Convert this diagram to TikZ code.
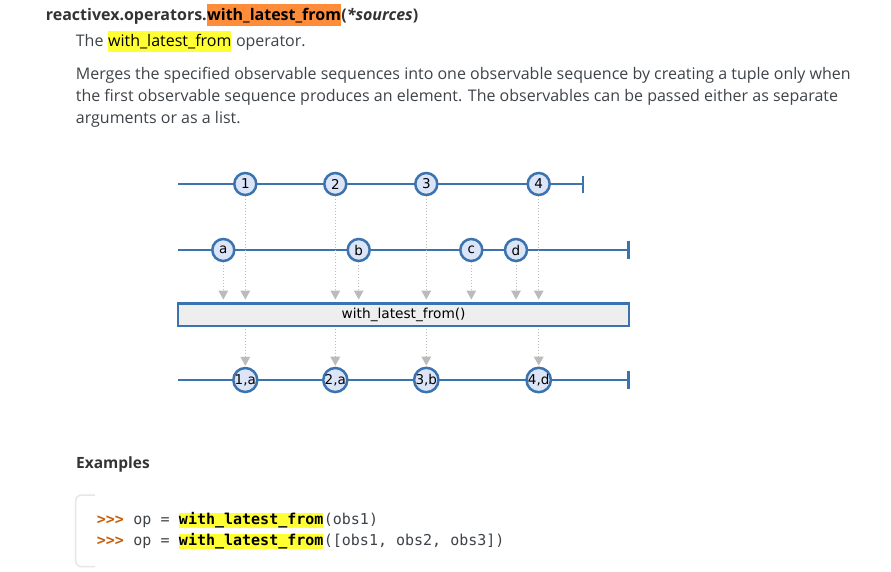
\documentclass[tikz,border=0pt]{standalone}
\usepackage{fontspec}
\setmainfont{Open Sans}
\newfontfamily\dejavu{DejaVu Sans}
\setmonofont{DejaVu Sans Mono}
\usetikzlibrary{arrows.meta}
\definecolor{txt}{HTML}{3E4349}
\definecolor{hdr}{HTML}{333333}
\definecolor{hlorange}{HTML}{FF8C38}
\definecolor{hlyellow}{HTML}{FFFF33}
\definecolor{axisblue}{HTML}{3A73AE}
\definecolor{marblefill}{HTML}{DCE5F8}
\definecolor{boxfill}{HTML}{EEEEEE}
\definecolor{conngray}{HTML}{BBBBBB}
\definecolor{prompt}{HTML}{C65D09}
\definecolor{codeborder}{HTML}{E6E6E6}
\begin{document}
\begin{tikzpicture}[x=1pt,y=-1pt,
  plain/.style={anchor=base west,inner sep=0pt,text=txt},
  hlo/.style={anchor=base west,inner xsep=0pt,inner ysep=0pt,fill=hlorange,text height=16.7pt,text depth=5.3pt,text=black},
  hly/.style={anchor=base west,inner xsep=0pt,inner ysep=0pt,fill=hlyellow,text height=16pt,text depth=5pt,text=black},
  hlc/.style={anchor=base west,inner xsep=0pt,inner ysep=0pt,fill=hlyellow,text height=11pt,text depth=3.7pt,text=black},
  axis/.style={draw=axisblue,line width=2.5pt},
  marble/.style={circle,draw=axisblue,line width=2.5pt,fill=marblefill,minimum size=22pt,inner sep=0pt,font=\dejavu\fontsize{13.5pt}{14pt}\selectfont,text=black},
  conn/.style={draw=conngray,line width=1pt,dash pattern=on 1pt off 2pt,-{Triangle[length=9pt,width=10pt,fill=conngray,color=conngray,line width=0pt]}},
  opbox/.style={draw=axisblue,line width=2.5pt,fill=boxfill,minimum width=451pt,minimum height=22.5pt,inner sep=0pt,font=\dejavu\fontsize{13.7pt}{14pt}\selectfont,text=black},
  codefont/.style={font=\ttfamily\fontsize{15pt}{18pt}\selectfont},
  codebold/.style={font=\ttfamily\bfseries\fontsize{15pt}{18pt}\selectfont}
]
\useasboundingbox (0,0) rectangle (891,571);
% ---------- header ----------
\begin{scope}[font=\bfseries\fontsize{16pt}{20pt}\selectfont]
\node[plain,text=hdr] (h1) at (45.7,20.7) {reactivex.operators.};
\node[hlo] (h2) at (h1.base east) {with\_latest\_from};
\node[plain,text=hdr] (h3) at (h2.base east) {(\textit{*sources})};
\end{scope}
\begin{scope}[font=\fontsize{16pt}{20pt}\selectfont]
\node[plain] (t1) at (75.7,46.7) {The\ \mbox{}};
\node[hly] (t2) at (t1.base east) {with\_latest\_from};
\node[plain] (t3) at (t2.base east) {\ operator.};
\node[plain] (p1) at (75.7,79) {Merges the specified observable sequences into one observable sequence by creating a tuple only when};
\node[plain] (p2) at (75.7,101) {the first observable sequence produces an element. The observables can be passed either as separate};
\node[plain] (p3) at (75.7,123) {arguments or as a list.};
\end{scope}
% ---------- diagram ----------
% source 1
\draw[axis] (178,184) -- (583,184);
\draw[axis] (583,175.5) -- (583,192.5);
\node[marble] (m1) at (245.3,184) {1};
\node[marble] (m2) at (335.3,184) {2};
\node[marble] (m3) at (426.3,184) {3};
\node[marble] (m4) at (538.7,184) {4};
% source 2
\draw[axis] (178,250) -- (628.7,250);
\draw[axis] (628.7,241.2) -- (628.7,258.8);
\node[marble] (ma) at (223.3,250) {a};
\node[marble] (mb) at (358.7,250) {b};
\node[marble] (mc) at (471.3,250) {c};
\node[marble] (md) at (516,250) {d};
% operator box
\node[opbox] (op) at (403.6,314.5) {with\_latest\_from()};
% result
\draw[axis] (178,380) -- (628.7,380);
\draw[axis] (628.7,371.2) -- (628.7,388.8);
\node[marble] (r1) at (245.3,380) {1,a};
\node[marble] (r2) at (335.3,380) {2,a};
\node[marble] (r3) at (426.3,380) {3,b};
\node[marble] (r4) at (538.7,380) {4,d};
% connectors into operator
\foreach \m in {m1,m2,m3,m4,ma,mb,mc,md}
  \draw[conn,shorten >=2.5pt] (\m) -- (\m |- op.north);
% connectors out of operator
\foreach \m in {r1,r2,r3,r4}
  \draw[conn,shorten <=1.5pt,shorten >=1pt] (\m |- op.south) -- (\m);
% ---------- examples ----------
\node[plain,text=hdr,font=\bfseries\fontsize{15.5pt}{18pt}\selectfont] (ex) at (76,468) {Examples};
\draw[codeborder,line width=1.5pt,rounded corners=6pt] (95,495) -- (75.7,495) -- (75.7,566.7) -- (95,566.7);
\begin{scope}[codefont]
\node[plain,text=prompt,codebold] (c1a) at (96.7,524) {>>>};
\node[plain] (c1b) at (c1a.base east) {\ op =\ \mbox{}};
\node[hlc,codebold] (c1c) at (c1b.base east) {with\_latest\_from};
\node[plain] (c1d) at (c1c.base east) {(obs1)};
\node[plain,text=prompt,codebold] (c2a) at (96.7,545.4) {>>>};
\node[plain] (c2b) at (c2a.base east) {\ op =\ \mbox{}};
\node[hlc,codebold] (c2c) at (c2b.base east) {with\_latest\_from};
\node[plain] (c2d) at (c2c.base east) {([obs1, obs2, obs3])};
\end{scope}
\end{tikzpicture}
\end{document}
